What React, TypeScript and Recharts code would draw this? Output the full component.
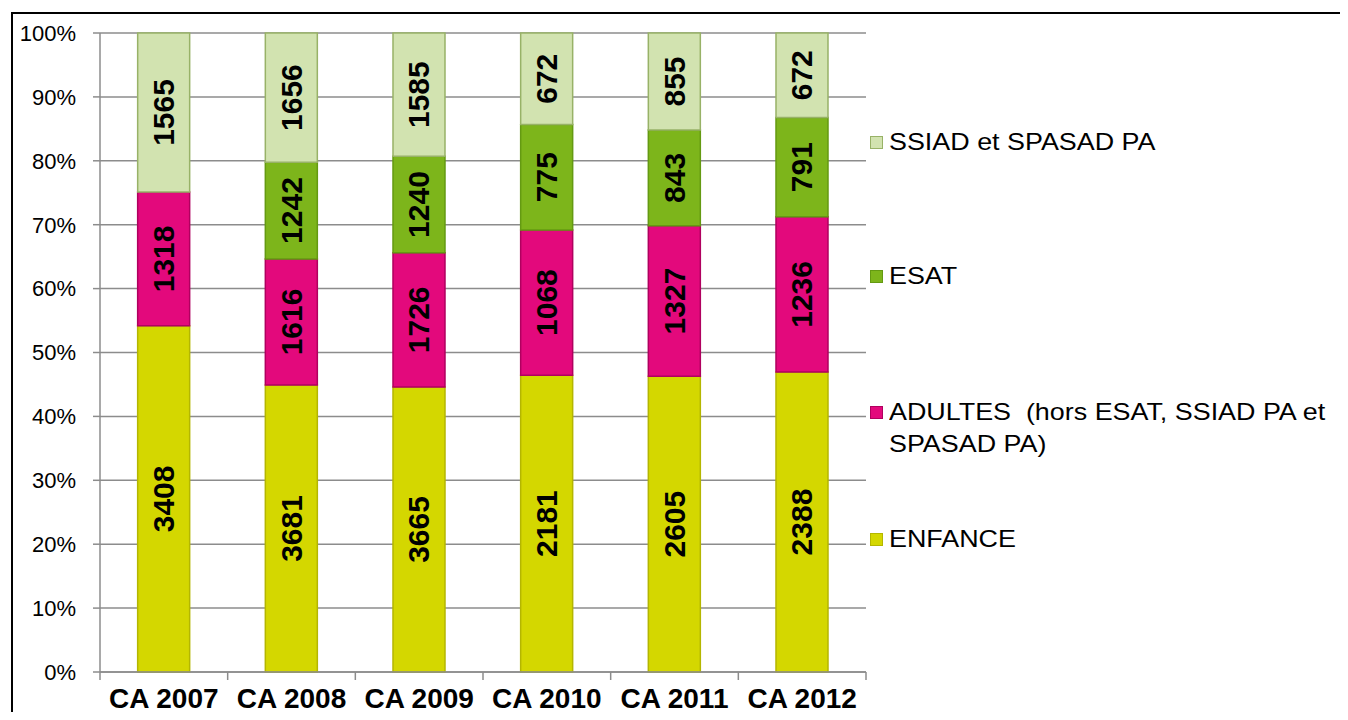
import React from "react";
import {
  BarChart,
  Bar,
  XAxis,
  YAxis,
  CartesianGrid,
  LabelList,
} from "recharts";

const categories = ["CA 2007", "CA 2008", "CA 2009", "CA 2010", "CA 2011", "CA 2012"];
const enfance = [3408, 3681, 3665, 2181, 2605, 2388];
const adultes = [1318, 1616, 1726, 1068, 1327, 1236];
const esat = [0, 1242, 1240, 775, 843, 791];
const ssiad = [1565, 1656, 1585, 672, 855, 672];
const yTicks = [0, 0.1, 0.2, 0.3, 0.4, 0.5, 0.6, 0.7, 0.8, 0.9, 1];

const series = [
  { key: "enfance", name: "ENFANCE", fill: "#d4d700", stroke: "#b4b600" },
  { key: "adultes", name: "ADULTES  (hors ESAT, SSIAD PA et\nSPASAD PA)", fill: "#e3097c", stroke: "#b0005f" },
  { key: "esat", name: "ESAT", fill: "#7db51b", stroke: "#649a12" },
  { key: "ssiad", name: "SSIAD et SPASAD PA", fill: "#d2e3b0", stroke: "#98b267" },
];

const data = categories.map((c, i) => ({
  name: c,
  enfance: enfance[i],
  adultes: adultes[i],
  esat: esat[i],
  ssiad: ssiad[i],
}));

const W = 1348;
const H = 720;
const Y_AXIS_W = 100;
const X_AXIS_H = 48;
const margin = { top: 33, right: 482, bottom: 0, left: 0 };
const bandW = (W - Y_AXIS_W - margin.right) / categories.length;
const plotBottom = H - X_AXIS_H;
const FONT = "'Liberation Sans', Arial, sans-serif";

const renderLabel = (props: any) => {
  const { x, y, width, height, value } = props;
  if (!value) return null;
  const cx = Number(x) + Number(width) / 2;
  const cy = Number(y) + Number(height) / 2;
  return (
    <text
      x={cx}
      y={cy}
      transform={`rotate(-90 ${cx} ${cy})`}
      textAnchor="middle"
      dominantBaseline="central"
      fontWeight="bold"
      fontSize={30}
      fontFamily={FONT}
      fill="#000"
    >
      {value}
    </text>
  );
};

const XTick = (props: any) => {
  const { x, payload, index } = props;
  return (
    <g>
      <line x1={x - bandW / 2} x2={x - bandW / 2} y1={plotBottom} y2={plotBottom + 8} stroke="#8c8c8c" strokeWidth={1.5} />
      {index === categories.length - 1 && (
        <line x1={x + bandW / 2} x2={x + bandW / 2} y1={plotBottom} y2={plotBottom + 8} stroke="#8c8c8c" strokeWidth={1.5} />
      )}
      <text x={x} y={plotBottom + 36} textAnchor="middle" fontWeight="bold" fontSize={28} fontFamily={FONT} fill="#000">
        {payload.value}
      </text>
    </g>
  );
};

const legendItems = [
  { s: series[3], top: 142 },
  { s: series[2], top: 276 },
  { s: series[1], top: 412 },
  { s: series[0], top: 539 },
];

export default function App() {
  return (
    <div style={{ position: "relative", width: W, height: H, margin: -8, overflow: "hidden", background: "#fff" }}>
      <div
        style={{
          position: "absolute",
          left: 11,
          top: 12,
          width: W + 40,
          height: H + 40,
          border: "2px solid #000",
        }}
      />
      <div style={{ position: "absolute", left: 0, top: 0 }}>
        <BarChart width={W} height={H} data={data} margin={margin} stackOffset="expand" barCategoryGap="29.5%">
          <CartesianGrid vertical={false} stroke="#8c8c8c" strokeWidth={1.5} />
          <XAxis
            dataKey="name"
            height={X_AXIS_H}
            axisLine={{ stroke: "#8c8c8c", strokeWidth: 1.5 }}
            tickLine={false}
            tick={<XTick />}
            interval={0}
          />
          <YAxis
            width={Y_AXIS_W}
            domain={[0, 1]}
            ticks={yTicks}
            tickFormatter={(v: number) => `${Math.round(v * 100)}%`}
            axisLine={{ stroke: "#8c8c8c", strokeWidth: 1.5 }}
            tickLine={{ stroke: "#8c8c8c", strokeWidth: 1.5 }}
            tickSize={7}
            tickMargin={17}
            tick={{ fill: "#000", fontSize: 22, fontFamily: FONT }}
            interval={0}
          />
          {series.map((s) => (
            <Bar
              key={s.key}
              dataKey={s.key}
              stackId="a"
              fill={s.fill}
              stroke={s.stroke}
              strokeWidth={1.5}
              isAnimationActive={false}
            >
              <LabelList dataKey={s.key} content={renderLabel} />
            </Bar>
          ))}
        </BarChart>
      </div>
      {legendItems.map(({ s, top }) => (
        <div
          key={s.key}
          style={{
            position: "absolute",
            left: 870,
            top: top - 16,
            fontFamily: FONT,
            fontSize: 24,
            lineHeight: "32px",
            color: "#000",
            whiteSpace: "pre",
          }}
        >
          <span
            style={{
              position: "absolute",
              left: 0,
              top: 10,
              width: 11,
              height: 11,
              background: s.fill,
              border: `1px solid ${s.stroke}`,
            }}
          />
          <div style={{ marginLeft: 19, transform: "scaleX(1.12)", transformOrigin: "left center" }}>{s.name}</div>
        </div>
      ))}
    </div>
  );
}
